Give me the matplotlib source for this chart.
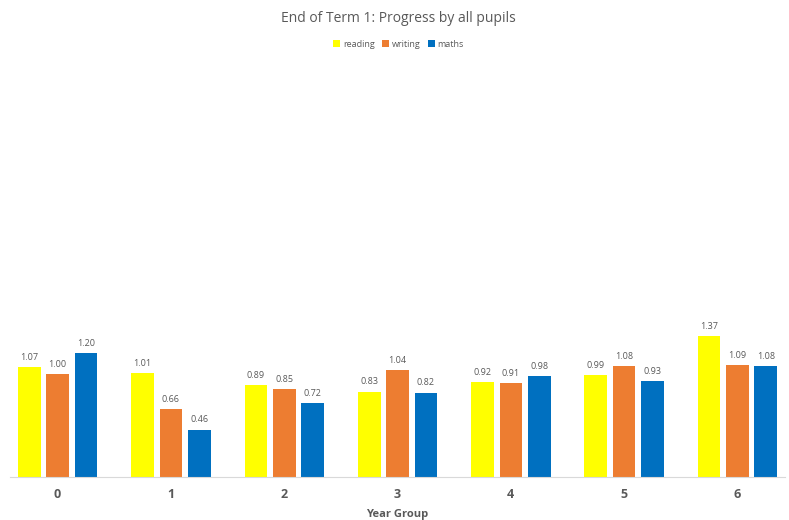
import numpy as np
import matplotlib
matplotlib.use("Agg")
import matplotlib.pyplot as plt

# progress scores per year group
year_groups = ["0", "1", "2", "3", "4", "5", "6"]
reading = [1.07, 1.01, 0.89, 0.83, 0.92, 0.99, 1.37]
writing = [1.00, 0.66, 0.85, 1.04, 0.91, 1.08, 1.09]
maths = [1.20, 0.46, 0.72, 0.82, 0.98, 0.93, 1.08]

series = [("reading", reading, "#FFFF00"),
          ("writing", writing, "#ED7D31"),
          ("maths", maths, "#0070C0")]

plt.rcParams['font.family'] = ['Open Sans', 'DejaVu Sans']

fig = plt.figure(figsize=(7.89, 5.2), dpi=100)
ax = fig.add_axes([0.0127, 0.0827, 0.9823, 0.7923])

x = np.arange(len(year_groups))
width = 0.2
step = 0.25
for i, (name, vals, col) in enumerate(series):
    pos = x + (i - 1) * step
    bars = ax.bar(pos, vals, width, color=col, label=name)
    for b, v in zip(bars, vals):
        ax.text(b.get_x() + b.get_width() / 2, v + 0.05, "%.2f" % v,
                ha="center", va="bottom", fontsize=6.5, color="#595959")

ax.set_xlim(-0.42, 6.42)
ax.set_ylim(0, 4)
ax.set_yticks([])
ax.set_xticks(x)
ax.set_xticklabels(year_groups, fontsize=9, fontweight="bold", color="#595959")
ax.tick_params(axis="x", length=0, pad=8)
for s in ["left", "right", "top"]:
    ax.spines[s].set_visible(False)
ax.spines["bottom"].set_color("#D9D9D9")
ax.set_xlabel("Year Group", fontsize=8, fontweight="bold", color="#595959", labelpad=6)

fig.text(0.505, 0.965, "End of Term 1: Progress by all pupils", ha="center",
         va="center", fontsize=10, color="#595959")
fig.legend(loc="center", bbox_to_anchor=(0.505, 0.915), ncol=3, frameon=False,
           fontsize=6.5, handlelength=0.8, handleheight=0.8, handletextpad=0.3,
           columnspacing=0.8, labelcolor="#595959")

fig.savefig("out.png", dpi=100)
